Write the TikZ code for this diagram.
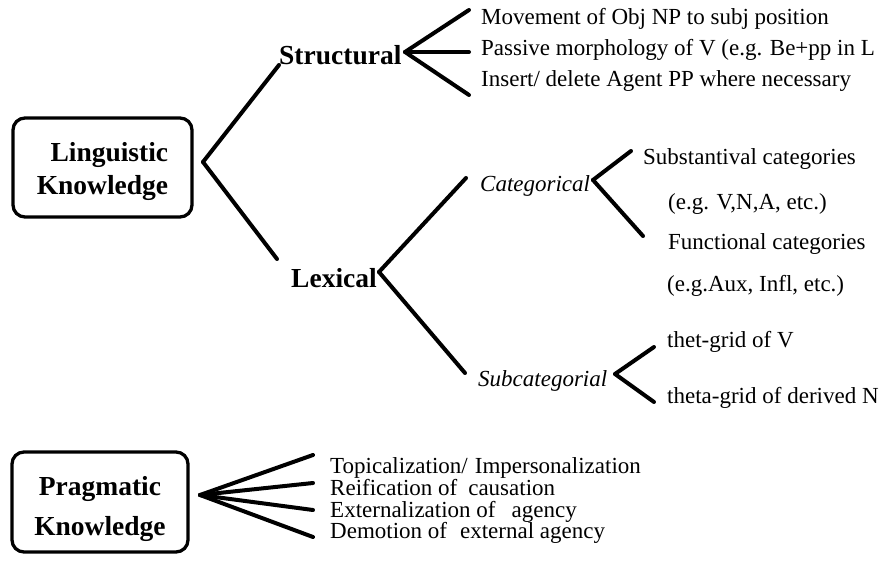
\documentclass[tikz,border=0pt]{standalone}
\usepackage{fontspec}
\setmainfont{Liberation Serif}
\usetikzlibrary{positioning}
\tikzset{
    knowbox/.style={
        draw,
        line width=3.3pt,
        rounded corners=12pt,
        inner sep=0pt
    },
    boxtext/.style={inner sep=0pt, font=\fontsize{27.5}{33}\selectfont\bfseries},
    branch/.style={anchor=base west, inner sep=0pt, font=\fontsize{27.5}{33}\selectfont\bfseries},
    subbranch/.style={anchor=base west, inner sep=0pt, font=\fontsize{23}{28}\selectfont\itshape},
    leaf/.style={anchor=base west, inner sep=0pt, font=\fontsize{23}{26}\selectfont},
    fan/.style={line width=4pt, line cap=round}
}

\begin{document}
\begin{tikzpicture}[x=1pt,y=-1pt]
\useasboundingbox (0,0) rectangle (884,561);

% Linguistic knowledge
\node[knowbox, minimum width=179pt, minimum height=99pt] (ling-box) at (102.5,167.5) {};
\node[boxtext, align=right] (ling) at (102.5,171.5) {Linguistic\\Knowledge};
\coordinate (ling-v) at (203,162);
\node[branch] (struct) at (279,65) {Structural};
\node[branch] (lex) at (291,288) {Lexical};
\coordinate (lex-in) at (277,259);
\draw[fan] (ling-v) -- (struct.base west);
\draw[fan] (ling-v) -- (lex-in);

% Structural
\coordinate (struct-v) at (405,52);
\node[leaf] (move) at (481,25) {Movement of Obj NP to subj position};
\node[leaf] (passive) at (481,56) {Passive morphology of V (e.g. Be+pp in L};
\node[leaf] (insert) at (481,87) {Insert/ delete Agent PP where necessary};
\coordinate (move-in) at (469,10);
\coordinate (passive-in) at (469,52);
\coordinate (insert-in) at (469,95);
\draw[fan] (struct-v) -- (move-in);
\draw[fan] (struct-v) -- (passive-in);
\draw[fan] (struct-v) -- (insert-in);

% Lexical
\coordinate (lex-v) at (379,272);
\node[subbranch] (cat) at (480,192) {Categorical};
\node[subbranch] (subcat) at (478,387) {Subcategorial};
\coordinate (cat-in) at (466,178);
\coordinate (subcat-in) at (465,373);
\draw[fan] (lex-v) -- (cat-in);
\draw[fan] (lex-v) -- (subcat-in);

% Categorical
\coordinate (cat-v) at (593,180);
\node[leaf] (subst) at (643,165) {Substantival categories};
\node[leaf] (subst-eg) at (668,210) {(e.g. V,N,A, etc.)};
\node[leaf] (func) at (668,250) {Functional categories};
\node[leaf] (func-eg) at (667,292) {(e.g.Aux, Infl, etc.)};
\coordinate (subst-in) at (631,151);
\coordinate (func-in) at (643,236);
\draw[fan] (cat-v) -- (subst-in);
\draw[fan] (cat-v) -- (func-in);

% Subcategorial
\coordinate (subcat-v) at (615,374);
\node[leaf] (thetv) at (667,348) {thet-grid of V};
\node[leaf] (thetn) at (667,403) {theta-grid of derived N};
\coordinate (thetv-in) at (654,347);
\coordinate (thetn-in) at (654,402);
\draw[fan] (subcat-v) -- (thetv-in);
\draw[fan] (subcat-v) -- (thetn-in);

% Pragmatic knowledge
\node[knowbox, minimum width=176pt, minimum height=100pt] (prag-box) at (100,502) {};
\node[boxtext, align=center, font=\fontsize{27.5}{40}\selectfont\bfseries] (prag) at (100,509) {Pragmatic\\Knowledge};
\coordinate (prag-v) at (200,495);
\node[leaf] (topic) at (330,473) {Topicalization/\hspace{7pt}Impersonalization};
\node[leaf] (reif) at (330,495) {Reification of\hspace{11pt}causation};
\node[leaf] (ext) at (330,517) {Externalization of\hspace{16pt}agency};
\node[leaf] (demo) at (330,538) {Demotion of\hspace{13pt}external agency};
\coordinate (topic-in) at (313,455);
\coordinate (reif-in) at (313,483);
\coordinate (ext-in) at (313,510);
\coordinate (demo-in) at (313,537);
\foreach \e in {topic-in, reif-in, ext-in, demo-in}
    \draw[fan] (prag-v) -- (\e);
\end{tikzpicture}
\end{document}
